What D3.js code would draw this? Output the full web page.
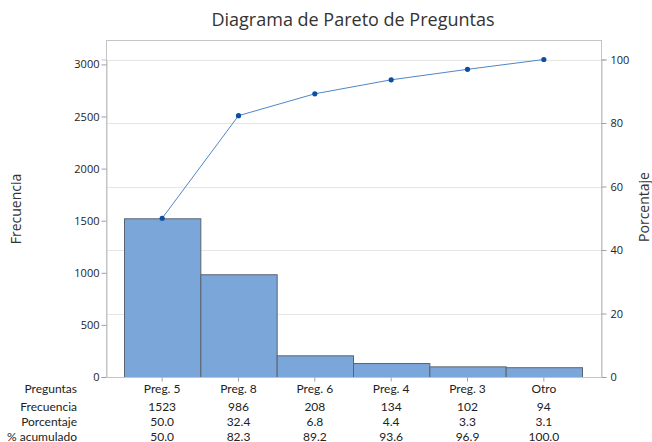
<!DOCTYPE html>
<html>
<head>
<meta charset="utf-8">
<script src="https://d3js.org/d3.v7.min.js"></script>
<style>
  body { margin: 0; background: #fff; }
  text { font-family: "Open Sans", "Noto Sans", sans-serif; }
</style>
</head>
<body>
<script>
var categories = ["Preg. 5", "Preg. 8", "Preg. 6", "Preg. 4", "Preg. 3", "Otro"];
var frecuencia = [1523, 986, 208, 134, 102, 94];
var porcentaje = ["50.0", "32.4", "6.8", "4.4", "3.3", "3.1"];
var acumulado = [50.0, 82.3, 89.2, 93.6, 96.9, 100.0];
var leftTicks = [0, 500, 1000, 1500, 2000, 2500, 3000];
var rightTicks = [0, 20, 40, 60, 80, 100];

var w = 652, h = 442;
var frameL = 106, frameR = 601, frameT = 40, base = 377;
var total = d3.sum(frecuencia);

var svg = d3.select("body").append("svg")
    .attr("width", w).attr("height", h);

var x = d3.scaleBand().domain(categories).range([124, 582]).padding(0);
var yL = d3.scaleLinear().domain([0, total]).range([base, 59.5]);
var yR = d3.scaleLinear().domain([0, 100]).range([base, 59.5]);

// title
svg.append("text")
   .attr("x", 353).attr("y", 26)
   .attr("text-anchor", "middle")
   .style("font-size", "18px")
   .style("fill", "#333")
   .text("Diagrama de Pareto de Preguntas");

// gridlines (percent axis)
svg.append("g").selectAll("line")
   .data(rightTicks.slice(1))
   .enter().append("line")
   .attr("x1", frameL).attr("x2", frameR)
   .attr("y1", function(d){ return Math.round(yR(d)) + 0.5; })
   .attr("y2", function(d){ return Math.round(yR(d)) + 0.5; })
   .attr("stroke", "#e6e6e6");

// frame
svg.append("rect")
   .attr("x", frameL + 0.5).attr("y", frameT + 0.5)
   .attr("width", frameR - frameL).attr("height", base - frameT)
   .attr("fill", "none").attr("stroke", "#c4c4c4");

// bars
svg.append("g").selectAll("rect")
   .data(frecuencia)
   .enter().append("rect")
   .attr("x", function(d, i){ return x(categories[i]) + 0.5; })
   .attr("y", function(d){ return yL(d) + 0.5; })
   .attr("width", x.bandwidth())
   .attr("height", function(d){ return base - yL(d); })
   .attr("fill", "#7ba6d9")
   .attr("stroke", "#5a6470");

// axes
var leftAxis = d3.axisLeft(yL).tickValues(leftTicks).tickFormat(d3.format("d")).tickSize(5).tickPadding(2);
var gl = svg.append("g").attr("transform", "translate(" + (frameL + 0.5) + ",0)").call(leftAxis);
var rightAxis = d3.axisRight(yR).tickValues(rightTicks).tickSize(5).tickPadding(4);
var gr = svg.append("g").attr("transform", "translate(" + (frameR + 0.5) + ",0)").call(rightAxis);
var bottomAxis = d3.axisBottom(x).tickSize(4).tickFormat("");
var gb = svg.append("g").attr("transform", "translate(0," + (base + 0.5) + ")").call(bottomAxis);
[gl, gr, gb].forEach(function(g){
  g.select(".domain").attr("stroke", "#c4c4c4");
  g.selectAll(".tick line").attr("stroke", "#a0a0a0");
  g.selectAll("text").style("font-size", "11px").style("fill", "#222")
   .style("font-family", "'Open Sans', sans-serif");
});
gb.select(".domain").attr("d", "M" + frameL + ",0H" + (frameR + 1));

// cumulative line
var line = d3.line()
   .x(function(d, i){ return x(categories[i]) + x.bandwidth() / 2; })
   .y(function(d){ return yR(d); });
svg.append("path")
   .datum(acumulado)
   .attr("d", line)
   .attr("fill", "none")
   .attr("stroke", "#4f86c6")
   .attr("stroke-width", 1);
svg.append("g").selectAll("circle")
   .data(acumulado)
   .enter().append("circle")
   .attr("cx", function(d, i){ return x(categories[i]) + x.bandwidth() / 2; })
   .attr("cy", function(d){ return yR(d); })
   .attr("r", 2.6)
   .attr("fill", "#0b4fa0");

// axis titles
svg.append("text")
   .attr("transform", "translate(21,209) rotate(-90)")
   .attr("text-anchor", "middle")
   .style("font-size", "14px").style("fill", "#333")
   .text("Frecuencia");
svg.append("text")
   .attr("transform", "translate(649,207) rotate(-90)")
   .attr("text-anchor", "middle")
   .style("font-size", "14px").style("fill", "#333")
   .text("Porcentaje");

// table below
var rows = [
  { label: "Preguntas", y: 393, vals: categories },
  { label: "Frecuencia", y: 411, vals: frecuencia },
  { label: "Porcentaje", y: 426, vals: porcentaje },
  { label: "% acumulado", y: 440.5, vals: acumulado.map(function(d){ return d.toFixed(1); }) }
];
rows.forEach(function(r){
  svg.append("text")
     .attr("x", 77).attr("y", r.y)
     .attr("text-anchor", "end")
     .style("font-family", "Lato, sans-serif")
     .style("font-size", "12px").style("fill", "#222")
     .text(r.label);
  svg.append("g").selectAll("text")
     .data(r.vals)
     .enter().append("text")
     .attr("x", function(d, i){ return x(categories[i]) + x.bandwidth() / 2; })
     .attr("y", r.y)
     .attr("text-anchor", "middle")
     .style("font-family", "Lato, sans-serif")
     .style("font-size", "12px").style("fill", "#222")
     .text(function(d){ return d; });
});
</script>
</body>
</html>
